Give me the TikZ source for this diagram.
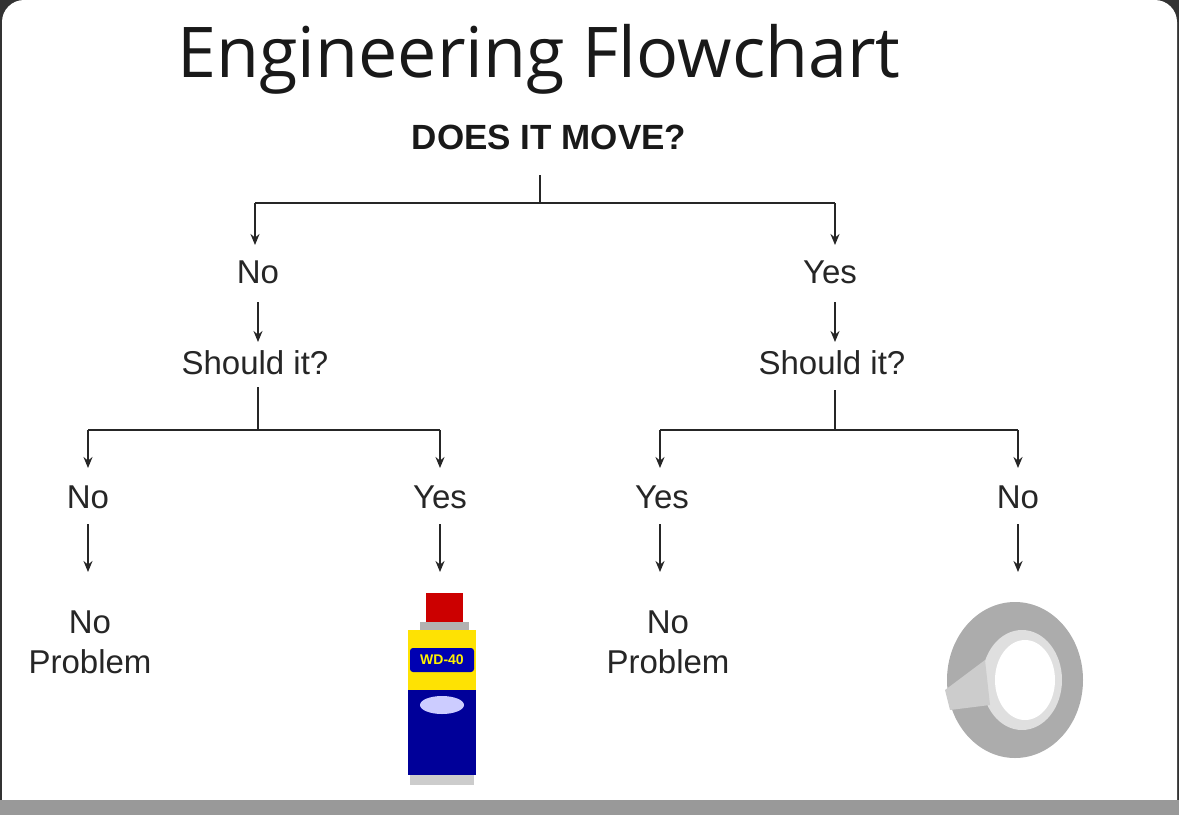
\documentclass[tikz,border=0pt]{standalone}
\usepackage{fontspec}
\setmainfont{Liberation Sans}
\newfontfamily\titlefont{Open Sans}
\usetikzlibrary{arrows.meta}
\begin{document}
\begin{tikzpicture}[x=1pt,y=-1pt,
  lbl/.style={font=\fontsize{33}{38}\selectfont, text=black!85, inner sep=1pt, align=center},
  ln/.style={line width=1.8pt, black!85},
  arr/.style={ln, -{Stealth[length=11pt,width=9pt]}}]
\useasboundingbox (0,0) rectangle (1179,815);
\fill[black!80] (0,0) rectangle (1179,815);
\fill[white, rounded corners=22pt] (2,0) rectangle (1177,840);
\fill[black!40] (0,800) rectangle (1179,815);
% title
\node[font=\titlefont\fontsize{70}{76}\selectfont, text=black!90] (title) at (539,59) {Engineering Flowchart};
\node[font=\bfseries\fontsize{35}{40}\selectfont, text=black!90] (q) at (549,137) {DOES IT MOVE?};
\coordinate (qb) at (540,175);
\coordinate (j1) at (540,203);
\coordinate (jl) at (255,203);
\coordinate (jr) at (835,203);
\node[lbl] (no1) at (258,272) {No};
\node[lbl] (yes1) at (830,272) {Yes};
\draw[ln] (qb) -- (j1);
\draw[ln] (jl) -- (jr);
\draw[arr] (jl) -- (255,245);
\draw[arr] (jr) -- (835,245);
\node[lbl] (s1) at (255,363) {Should it?};
\node[lbl] (s2) at (832,363) {Should it?};
\draw[arr] (258,302) -- (258,342);
\draw[arr] (835,302) -- (835,342);
% left branch
\draw[ln] (258,387) -- (258,430);
\draw[ln] (88,430) -- (440,430);
\draw[arr] (88,430) -- (88,468);
\draw[arr] (440,430) -- (440,468);
% right branch
\draw[ln] (835,390) -- (835,430);
\draw[ln] (660,430) -- (1018,430);
\draw[arr] (660,430) -- (660,468);
\draw[arr] (1018,430) -- (1018,468);
\node[lbl] (a) at (88,497) {No};
\node[lbl] (b) at (440,497) {Yes};
\node[lbl] (c) at (662,497) {Yes};
\node[lbl] (d) at (1018,497) {No};
\draw[arr] (88,524) -- (88,572);
\draw[arr] (440,524) -- (440,572);
\draw[arr] (660,524) -- (660,572);
\draw[arr] (1018,524) -- (1018,572);
\node[lbl, font=\fontsize{33}{40}\selectfont] (p1) at (90,642) {No\\Problem};
\node[lbl, font=\fontsize{33}{40}\selectfont] (p2) at (668,642) {No\\Problem};
% WD-40 can
\fill[red!80!black] (426,593) rectangle (463,622);
\fill[gray!60] (420,622) rectangle (469,630);
\fill[yellow!85!orange] (408,630) rectangle (476,690);
\fill[blue!60!black] (408,690) rectangle (476,775);
\fill[gray!40] (410,775) rectangle (474,785);
\fill[blue!70!black, rounded corners=3pt] (410,648) rectangle (474,672);
\node[font=\bfseries\fontsize{14}{14}\selectfont, text=yellow] (wd) at (442,660) {WD-40};
\fill[white!80!blue] (442,705) ellipse (22pt and 9pt);
% duct tape
\fill[gray!65] (1015,680) ellipse (68pt and 78pt);
\fill[gray!25] (1022,680) ellipse (40pt and 50pt);
\fill[white] (1025,680) ellipse (30pt and 40pt);
\fill[gray!40] (945,690) -- (985,660) -- (990,705) -- (950,710) -- cycle;
\end{tikzpicture}
\end{document}
